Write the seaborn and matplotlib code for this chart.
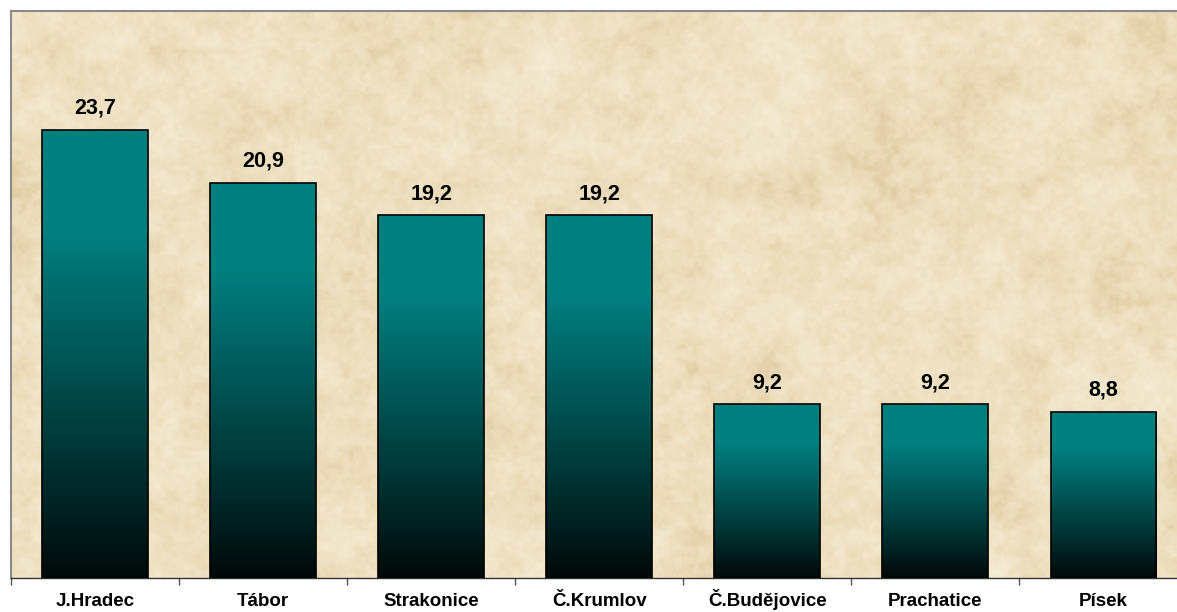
import numpy as np
import pandas as pd
import seaborn as sns
import matplotlib.pyplot as plt
from matplotlib.colors import LinearSegmentedColormap

districts = ["J.Hradec", "Tábor", "Strakonice", "Č.Krumlov", "Č.Budějovice", "Prachatice", "Písek"]
values = [23.7, 20.9, 19.2, 19.2, 9.2, 9.2, 8.8]
value_labels = ["23,7", "20,9", "19,2", "19,2", "9,2", "9,2", "8,8"]

df = pd.DataFrame({"district": districts, "value": values})

sns.set_style("white")
plt.rcParams['font.family'] = ['Liberation Sans', 'DejaVu Sans']
plt.rcParams['text.color'] = 'black'
plt.rcParams['xtick.color'] = 'black'

fig = plt.figure(figsize=(11.77, 6.12), dpi=100)
ax = fig.add_axes([11 / 1177, 34 / 612, 1176.5 / 1177, 567 / 612])

# parchment texture behind the bars (decoration only)
rng = np.random.default_rng(7)
H, W = 400, 800
tex = np.zeros((H, W))
for scale, amp in [(10, 0.4), (30, 0.55), (80, 0.5), (200, 0.4), (400, 0.25)]:
    small = rng.random((int(H * scale / W) + 2, scale + 2))
    ys = np.linspace(0, small.shape[0] - 1.001, H)
    xs = np.linspace(0, small.shape[1] - 1.001, W)
    yi, xi = np.floor(ys).astype(int), np.floor(xs).astype(int)
    fy, fx = (ys - yi)[:, None], (xs - xi)[None, :]
    fy = fy * fy * (3 - 2 * fy)
    fx = fx * fx * (3 - 2 * fx)
    a = small[yi][:, xi]
    b = small[yi][:, xi + 1]
    c = small[yi + 1][:, xi]
    d = small[yi + 1][:, xi + 1]
    tex += amp * ((a * (1 - fx) + b * fx) * (1 - fy) + (c * (1 - fx) + d * fx) * fy)
tex = (tex - tex.min()) / (tex.max() - tex.min())
parchment = LinearSegmentedColormap.from_list(
    "parchment", ["#dec9a0", "#eadab8", "#f1e5ca", "#f6eed9"])
ax.imshow(tex, cmap=parchment, extent=[0, 1, 0, 1], transform=ax.transAxes,
          aspect="auto", zorder=0, interpolation="bilinear")

sns.barplot(data=df, x="district", y="value", color="#008080", width=0.63,
            edgecolor="black", linewidth=1.2, saturation=1, ax=ax, zorder=2)

# vertical teal-to-black gradient inside each bar
t = np.linspace(0, 1, 256)[:, None]
shade = np.clip(t / 0.78, 0, 1) ** 0.95
shade = 0.06 + 0.94 * shade
grad = np.dstack([0 * shade, 0.5 * shade, 0.5 * shade])
for p in ax.patches:
    x0, w, h = p.get_x(), p.get_width(), p.get_height()
    im = ax.imshow(grad, extent=[x0, x0 + w, 0, h], origin="lower",
                   aspect="auto", zorder=2.5, interpolation="bilinear")
    im.set_clip_path(p)
    p.set_facecolor("none")
    p.set_zorder(3)

ax.set_xlim(-0.5, len(districts) - 0.5)
ax.set_ylim(0, 30)

for i, (v, lab) in enumerate(zip(values, value_labels)):
    ax.annotate(lab, (i, v), xytext=(0, 8), textcoords="offset points",
                ha="center", va="bottom", fontsize=15.5, fontweight="bold")

ax.set_xlabel("")
ax.set_ylabel("")
ax.set_yticks([])
ax.set_xticks(range(len(districts)))
ax.set_xticklabels(districts, fontsize=13.5, fontweight="bold")
for lbl in ax.get_xticklabels():
    lbl.set_va("baseline")
ax.tick_params(axis="x", which="major", length=0, pad=20)
ax.set_xticks(np.arange(-0.5, len(districts), 1), minor=True)
ax.tick_params(axis="x", which="minor", length=5, width=1, color="#555555", bottom=True)

for side in ["left", "top", "right"]:
    ax.spines[side].set_color("#8a8a8a")
    ax.spines[side].set_linewidth(1.5)
ax.spines["bottom"].set_color("#333333")
ax.spines["bottom"].set_linewidth(1)

fig.savefig("out.png", dpi=100, facecolor="white")
